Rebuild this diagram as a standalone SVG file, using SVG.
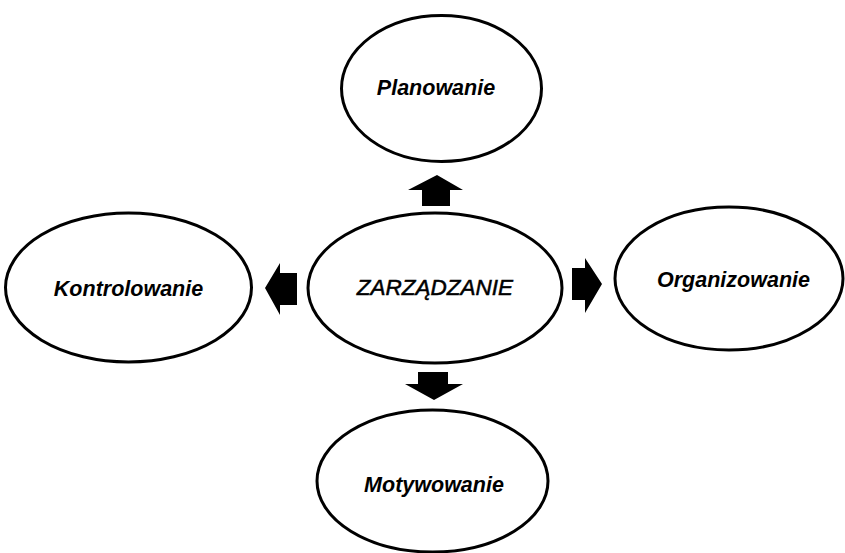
<svg xmlns="http://www.w3.org/2000/svg" width="845" height="553" viewBox="0 0 845 553">
<style>
.node ellipse{fill:#fff;stroke:#000;stroke-width:3}
.lbl{font-family:"Liberation Sans",Arial,sans-serif;font-style:italic;font-weight:bold;font-size:21.5px;fill:#000;text-anchor:middle}
.main{font-weight:normal;font-size:22.5px;stroke:#000;stroke-width:0.5}
.arrows path{fill:#000}
</style>
<rect width="845" height="553" fill="#fff"/>
<g id="planowanie" class="node">
<ellipse cx="441.5" cy="88.5" rx="100" ry="73"/>
<text class="lbl" x="436" y="95">Planowanie</text>
</g>
<g id="zarzadzanie" class="node">
<ellipse cx="435" cy="288" rx="127" ry="75"/>
<text class="lbl main" x="435" y="295">ZARZĄDZANIE</text>
</g>
<g id="kontrolowanie" class="node">
<ellipse cx="128.5" cy="287.5" rx="123" ry="74.5"/>
<text class="lbl" x="128.5" y="296">Kontrolowanie</text>
</g>
<g id="organizowanie" class="node">
<ellipse cx="729" cy="278.5" rx="114" ry="71.5"/>
<text class="lbl" x="733.5" y="287">Organizowanie</text>
</g>
<g id="motywowanie" class="node">
<ellipse cx="432.5" cy="481" rx="115.5" ry="71"/>
<text class="lbl" x="434" y="492">Motywowanie</text>
</g>
<g id="connectors" class="arrows">
<path d="M437 175 L463 190 L450 190 L450 206 L422 206 L422 190 L408 190 Z"/>
<path d="M434 400 L463 384 L448 384 L448 372 L418 372 L418 384 L405 384 Z"/>
<path d="M265 288 L280 263 L280 273 L297 273 L297 305 L280 305 L280 315 Z"/>
<path d="M602 284 L585 258 L585 268 L572 268 L572 300 L585 300 L585 313 Z"/>
</g>
</svg>
